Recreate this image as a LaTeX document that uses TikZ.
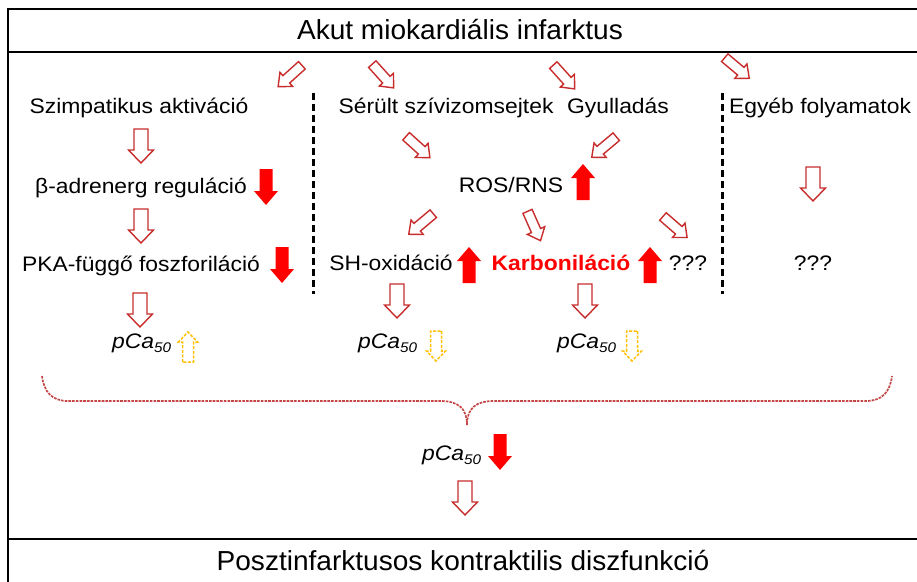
\documentclass[tikz,border=0pt]{standalone}
\usepackage{fontspec}
\setmainfont{Liberation Sans}[FakeStretch=1.09]
\newfontfamily\headfont{Liberation Sans}[FakeStretch=1.02]
\definecolor{arrred}{RGB}{200,45,45}
\definecolor{fullred}{RGB}{255,0,0}
\definecolor{gold}{RGB}{255,192,0}
\definecolor{bracered}{RGB}{196,70,70}
\tikzset{
  % block arrow pointing along +x, centred at the origin:
  % length / shaft width / head width / head length
  pics/blockarr/.style args={#1/#2/#3/#4}{code={
    \path[pic actions] ({-#1/2},{-#2/2}) -- ({#1/2-#4},{-#2/2}) -- ({#1/2-#4},{-#3/2})
      -- ({#1/2},0) -- ({#1/2-#4},{#3/2}) -- ({#1/2-#4},{#2/2}) -- ({-#1/2},{#2/2}) -- cycle;
  }},
  hollow/.style={draw=arrred, line width=1.4pt, fill=white},
  solid red/.style={fill=fullred},
  gold dashed/.style={draw=gold, line width=1.5pt, dash pattern=on 3pt off 1.6pt, fill=white},
  body/.style={font=\fontsize{21}{24}\selectfont, inner sep=0pt, anchor=base},
  headline/.style={font=\headfont\fontsize{27.5}{30}\selectfont, inner sep=0pt, anchor=base},
  pca/.style={font=\fontsize{21}{24}\selectfont\itshape, inner sep=0pt, anchor=base west},
  frame/.style={draw=black, line width=2pt},
  divider/.style={draw=black, line width=3pt, dash pattern=on 7pt off 4pt},
  brace/.style={draw=bracered, line width=1.7pt, dash pattern=on 2.6pt off 1.1pt}
}
\newcommand\pcafifty{pCa\raisebox{-0.22em}{\fontsize{14}{14}\selectfont 50}}
\begin{document}
\begin{tikzpicture}[x=1pt,y=-1pt]
\useasboundingbox (0,0) rectangle (917,581);
\clip (0,0) rectangle (917,581);
\fill[white] (0,0) rectangle (917,581);

% frame and separators
\draw[frame] (8,9) rectangle (940,620);
\draw[frame] (8,52) -- (940,52);
\draw[frame] (8,539) -- (940,539);

% headings
\node[headline] (mi) at (460,39) {Akut miokardiális infarktus};
\node[headline] (dysf) at (463,570) {Posztinfarktusos kontraktilis diszfunkció};

% column dividers
\draw[divider] (313,93) -- (313,294);
\draw[divider] (722,93) -- (722,294);

% first row
\node[body] (sympa) at (139,113) {Szimpatikus aktiváció};
\node[body] (damage) at (446,113) {Sérült szívizomsejtek};
\node[body] (infl) at (618,113) {Gyulladás};
\node[body] (other) at (820,113) {Egyéb folyamatok};

% arrows from the infarction
\pic[hollow, rotate=-138] (t1) at (290,76) {blockarr=32/10/19/11};
\pic[hollow, rotate=-48] (t2) at (383,76) {blockarr=32/10/19/11};
\pic[hollow, rotate=-48] (t3) at (564,77) {blockarr=32/10/19/11};
\pic[hollow, rotate=-40] (t4) at (737,68) {blockarr=32/10/19/11};

% sympathetic branch
\pic[hollow, rotate=-90] (s1) at (141,146) {blockarr=34/14/25/13};
\node[body] (beta) at (141,193) {β-adrenerg reguláció};
\pic[solid red, rotate=-90] (beta dn) at (266,187) {blockarr=36/13/24/14};
\pic[hollow, rotate=-90] (s2) at (141,226) {blockarr=34/14/25/13};
\node[body] (pka) at (141,271) {PKA-függő foszforiláció};
\pic[solid red, rotate=-90] (pka dn) at (282,265) {blockarr=36/13/24/14};
\pic[hollow, rotate=-90] (s3) at (140,310) {blockarr=34/14/25/13};
\node[pca] (pca1) at (112,348) {\pcafifty};
\pic[gold dashed, rotate=90] (pca1 up) at (188,347) {blockarr=30/11/19/10};

% oxidative branch
\pic[hollow, rotate=-42] (m1) at (418,147) {blockarr=32/10/19/11};
\pic[hollow, rotate=-140] (m2) at (604,147) {blockarr=32/10/19/11};
\node[body] (ros) at (511,192) {ROS/RNS};
\pic[solid red, rotate=90] (ros up) at (583,182) {blockarr=36/13/24/14};
\pic[hollow, rotate=-140] (m3) at (421,224) {blockarr=32/10/19/11};
\pic[hollow, rotate=-66] (m4) at (534,226) {blockarr=32/10/19/11};
\pic[hollow, rotate=-41] (m5) at (675,227) {blockarr=32/10/19/11};
\node[body] (sh) at (391,270) {SH-oxidáció};
\pic[solid red, rotate=90] (sh up) at (469,265) {blockarr=36/13/24/14};
\node[body, text=fullred, font=\fontsize{21}{24}\selectfont\bfseries] (carb) at (561,270) {Karboniláció};
\pic[solid red, rotate=90] (carb up) at (650,265) {blockarr=36/13/24/14};
\node[body] (unk1) at (688,270) {???};
\pic[hollow, rotate=-90] (m6) at (397,301) {blockarr=34/14/25/13};
\pic[hollow, rotate=-90] (m7) at (585,301) {blockarr=34/14/25/13};
\node[pca] (pca2) at (358,348) {\pcafifty};
\pic[gold dashed, rotate=-90] (pca2 dn) at (436,346) {blockarr=30/11/19/10};
\node[pca] (pca3) at (557,348) {\pcafifty};
\pic[gold dashed, rotate=-90] (pca3 dn) at (632,346) {blockarr=30/11/19/10};

% other processes
\pic[hollow, rotate=-90] (o1) at (813,184) {blockarr=34/14/25/13};
\node[body] (unk2) at (813,270) {???};

% summary brace
\draw[brace] (42,376) .. controls (44,392) and (52,401) .. (68,401) -- (440,401)
  .. controls (458,401) and (467,408) .. (467,425)
  .. controls (467,408) and (476,401) .. (494,401) -- (866,401)
  .. controls (882,401) and (890,392) .. (892,376);

\node[pca] (pca4) at (422,460) {\pcafifty};
\pic[solid red, rotate=-90] (pca4 dn) at (500,452) {blockarr=36/13/24/14};
\pic[hollow, rotate=-90] (b1) at (465,498) {blockarr=34/14/25/13};
\end{tikzpicture}
\end{document}
